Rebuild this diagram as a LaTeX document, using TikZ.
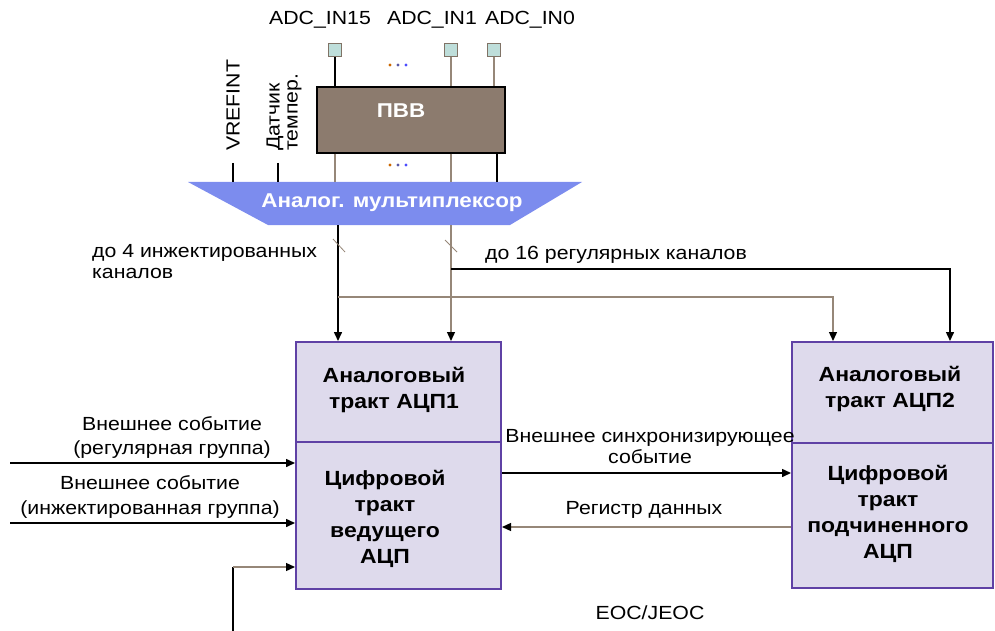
\documentclass[tikz,border=0pt]{standalone}
\usepackage{fontspec}
\setmainfont{Liberation Sans}[FakeStretch=1.12]
\usetikzlibrary{arrows.meta}

\definecolor{muxblue}{RGB}{124,140,238}
\definecolor{pvvbrown}{RGB}{140,123,110}
\definecolor{boxfill}{RGB}{222,218,236}
\definecolor{boxedge}{RGB}{95,65,165}
\definecolor{wiregray}{RGB}{150,135,120}
\definecolor{padfill}{RGB}{190,222,218}

\begin{document}
\begin{tikzpicture}[
    x=1pt, y=-1pt,
    % --- text styles ---
    lbl/.style={font=\fontsize{19}{21}\selectfont, inner sep=0pt, align=center},
    boxtxt/.style={font=\fontsize{20.5}{26}\selectfont\bfseries, inner sep=0pt, align=center},
    whitetxt/.style={font=\fontsize{20}{22}\selectfont\bfseries, text=white, inner sep=0pt},
    % --- block styles ---
    adcbox/.style={draw=boxedge, line width=2pt, fill=boxfill, minimum width=205pt, inner sep=0pt},
    padsq/.style={draw=wiregray!85!black, line width=1pt, fill=padfill, minimum size=13pt, inner sep=0pt},
    % --- wire styles ---
    blackwire/.style={line width=1.5pt, black},
    graywire/.style={line width=1.3pt, wiregray},
    arr/.style={-{Triangle[length=9pt,width=8pt,color=black]}},
]
\useasboundingbox (0,0) rectangle (995,631);

% ---- Input pins ----
\node[padsq] (in15) at (335,50) {};
\node[padsq] (in1)  at (451,50) {};
\node[padsq] (in0)  at (494,50) {};
\node[lbl] (in15lbl) at (320,20) {ADC\_IN15};
\node[lbl] (in1lbl)  at (432,20) {ADC\_IN1};
\node[lbl] (in0lbl)  at (530,20) {ADC\_IN0};

% ---- GPIO block ----
\node[draw, line width=1.5pt, fill=pvvbrown, minimum width=188pt, minimum height=66pt,
      inner sep=0pt] (pvv) at (411,120) {};
\node[whitetxt] (pvvtxt) at (401,111) {ПВВ};

% ---- Analog multiplexer ----
\fill[muxblue] (188,182) -- (582,182) -- (510,225) -- (268,225) -- cycle;
\node[whitetxt] (mux) at (392,203) {Аналог. мультиплексор};
\coordinate (muxtop) at (0,182);
\coordinate (muxL) at (338,225);
\coordinate (muxR) at (451,225);

% ---- Pin wires ----
\draw[blackwire] (in15) -- (in15 |- pvv.north);
\draw[graywire]  (in1)  -- (in1 |- pvv.north);
\draw[graywire]  (in0)  -- (in0 |- pvv.north);
\draw[graywire]  (in15 |- pvv.south) -- (in15 |- muxtop);
\draw[graywire]  (in1 |- pvv.south)  -- (in1 |- muxtop);
\draw[blackwire] ([xshift=3pt]in0 |- pvv.south) -- ([xshift=3pt]in0 |- muxtop);
\foreach \yy in {65,165}{
    \fill[orange!80!black] (390,\yy) circle (1.6pt);
    \fill[gray!70!blue] (398,\yy) circle (1.6pt);
    \fill[blue!70] (406,\yy) circle (1.6pt);
}

% ---- Internal channels ----
\node[lbl, rotate=90, anchor=west] (vref) at (233,151) {VREFINT};
\node[lbl, rotate=90, anchor=west, align=left, font=\fontsize{19}{18}\selectfont]
     (tsens) at (284,151) {Датчик\\темпер.};
\coordinate (tsensend) at (278,163);
\draw[blackwire] ([yshift=-12pt]vref.west) -- (vref.west |- muxtop);
\draw[blackwire] (tsensend) -- (tsensend |- muxtop);

% ---- ADC blocks ----
\node[adcbox, minimum height=100pt] (an1)  at (398.5,392) {};
\node[adcbox, minimum height=147pt] (dig1) at (398.5,515.5) {};
\node[adcbox, minimum width=201pt, minimum height=101pt] (an2)  at (892.5,392.5) {};
\node[adcbox, minimum width=201pt, minimum height=145pt] (dig2) at (892.5,515.5) {};

\node[boxtxt] (an1txt)  at (394,389.5) {Аналоговый\\тракт АЦП1};
\node[boxtxt] (dig1txt) at (385,518.5) {Цифровой\\тракт\\ведущего\\АЦП};
\node[boxtxt] (an2txt)  at (890,388.5) {Аналоговый\\тракт АЦП2};
\node[boxtxt] (dig2txt) at (888,514) {Цифровой\\тракт\\подчиненного\\АЦП};

% ---- Channel wires ----
\coordinate (regsplit) at (451,269);
\coordinate (injsplit) at (338,297);
\coordinate (an2inj) at (833,0);
\coordinate (an2reg) at (950,0);
\draw[blackwire, arr] (muxL) -- (muxL |- an1.north);
\draw[graywire, arr]  (muxR) -- (muxR |- an1.north);
\draw[blackwire, arr] (regsplit) -| (an2reg |- an2.north);
\draw[graywire, arr]  (injsplit) -| (an2inj |- an2.north);
\draw[wiregray, line width=0.8pt] (333,239) -- (345,252);
\draw[wiregray, line width=0.8pt] (445,240) -- (457,252);

\node[lbl, anchor=west, align=left] (injlbl) at (92,262) {до 4 инжектированных\\каналов};
\node[lbl, anchor=west] (reglbl) at (485,255) {до 16 регулярных каналов};

% ---- External triggers ----
\coordinate (ext1) at (10,463);
\coordinate (ext2) at (10,523);
\coordinate (eocin) at (233,631);
\coordinate (eocbend) at (233,567);
\draw[blackwire, arr] (ext1) -- (ext1 -| dig1.west);
\draw[blackwire, arr] (ext2) -- (ext2 -| dig1.west);
\draw[blackwire] (eocin) -- (eocbend);
\draw[graywire, arr] (eocbend) -- (eocbend -| dig1.west);

\node[lbl, font=\fontsize{19}{24}\selectfont] (ev1) at (172,437) {Внешнее событие\\(регулярная группа)};
\node[lbl, font=\fontsize{19}{25}\selectfont] (ev2) at (150,497) {Внешнее событие\\(инжектированная группа)};

% ---- Master / slave link ----
\coordinate (syncy) at (0,473);
\coordinate (datay) at (0,527);
\draw[blackwire, arr] (dig1.east |- syncy) -- (dig2.west |- syncy);
\draw[graywire, arr]  (dig2.west |- datay) -- (dig1.east |- datay);

\node[lbl] (synclbl) at (650,447) {Внешнее синхронизирующее\\событие};
\node[lbl] (datalbl) at (644,510) {Регистр данных};
\node[lbl] (eoclbl)  at (650,613) {EOC/JEOC};

\end{tikzpicture}
\end{document}
